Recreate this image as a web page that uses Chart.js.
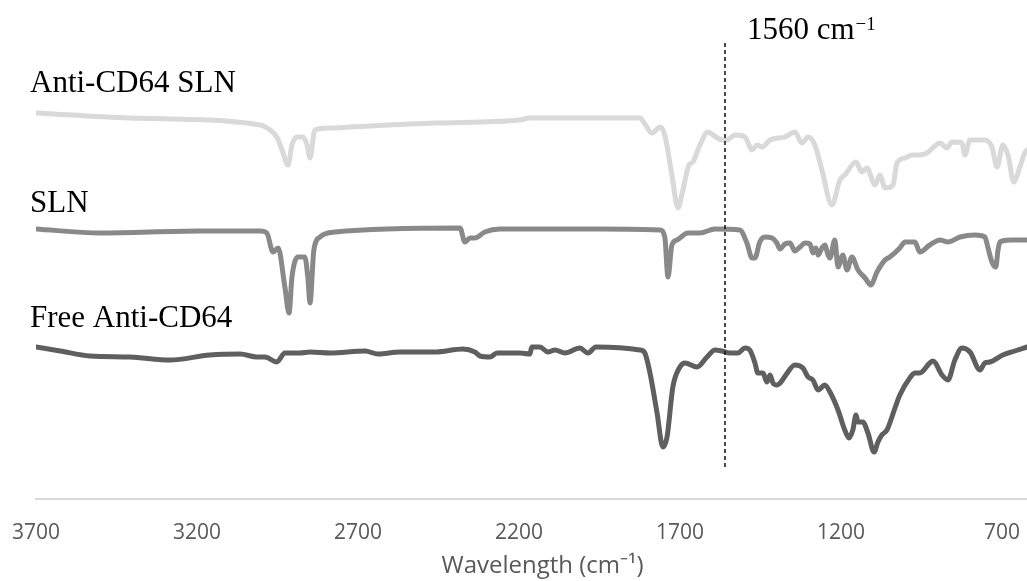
<!DOCTYPE html>
<html>
<head>
<meta charset="utf-8">
<script src="https://cdn.jsdelivr.net/npm/chart.js@4/dist/chart.umd.min.js"></script>
<style>
    body { margin: 0; background: #fff; }
    #chart { width: 1027px; height: 581px; }
</style>
</head>
<body>
<div id="chart"><canvas id="chart_canvas"></canvas></div>
<script>
// FTIR spectra, values are offset transmittance (arbitrary units)
const antiSlnWn = [3700, 3408, 3004, 2973, 2952, 2936, 2917, 2905, 2889, 2871, 2858, 2849, 2834, 2787, 2725, 2460, 2197, 2166, 1824, 1809, 1787, 1762, 1747, 1725, 1706, 1694, 1672, 1660, 1638, 1613, 1597, 1570, 1554, 1529, 1498, 1476, 1461, 1445, 1420, 1374, 1343, 1321, 1302, 1281, 1259, 1228, 1203, 1188, 1153, 1135, 1119, 1094, 1079, 1063, 1038, 1026, 1001, 979, 955, 933, 892, 871, 855, 824, 815, 799, 753, 731, 715, 697, 681, 663, 644, 629, 622];
const antiSlnT = [386, 381, 374, 369, 362, 349, 334, 354, 362, 362, 354, 341, 369, 371, 372, 376, 379, 381, 381, 375, 366, 372, 364, 324, 291, 304, 334, 337, 354, 367, 364, 359, 359, 364, 362, 349, 354, 352, 359, 362, 367, 356, 362, 354, 329, 294, 319, 324, 337, 327, 331, 314, 324, 311, 314, 336, 341, 344, 344, 346, 356, 351, 357, 356, 344, 359, 359, 352, 332, 354, 344, 317, 332, 346, 349];

const slnWn = [3700, 3501, 3191, 3004, 2983, 2964, 2948, 2927, 2914, 2905, 2886, 2865, 2855, 2849, 2837, 2818, 2771, 2383, 2368, 2352, 2337, 2306, 2259, 1948, 1762, 1747, 1737, 1725, 1709, 1675, 1638, 1591, 1514, 1492, 1476, 1467, 1452, 1436, 1414, 1399, 1389, 1374, 1358, 1343, 1327, 1312, 1296, 1287, 1278, 1271, 1259, 1250, 1240, 1234, 1219, 1209, 1194, 1181, 1166, 1147, 1125, 1107, 1088, 1063, 1048, 1017, 1001, 970, 955, 924, 892, 868, 830, 784, 753, 743, 731, 719, 712, 706, 675, 622];
const slnT = [270, 266, 268, 268, 266, 247, 251, 212, 186, 222, 242, 242, 219, 196, 249, 262, 267, 271, 257, 261, 261, 267, 270, 270, 269, 262, 222, 254, 259, 266, 266, 270, 269, 256, 241, 241, 257, 262, 261, 256, 250, 255, 256, 248, 252, 256, 255, 246, 251, 244, 251, 254, 244, 241, 259, 232, 244, 229, 242, 229, 221, 214, 227, 239, 242, 251, 257, 257, 247, 254, 259, 257, 262, 264, 262, 251, 237, 232, 249, 257, 259, 259];

const freeWn = [3700, 3625, 3532, 3408, 3284, 3160, 3066, 3014, 2989, 2952, 2927, 2880, 2849, 2787, 2678, 2638, 2570, 2461, 2374, 2337, 2321, 2290, 2268, 2197, 2166, 2160, 2135, 2110, 2088, 2057, 2011, 1986, 1961, 1824, 1809, 1793, 1771, 1753, 1740, 1722, 1700, 1684, 1647, 1616, 1591, 1570, 1545, 1520, 1498, 1483, 1467, 1458, 1442, 1430, 1420, 1411, 1399, 1386, 1371, 1343, 1318, 1302, 1287, 1271, 1250, 1234, 1209, 1188, 1175, 1163, 1153, 1147, 1132, 1116, 1097, 1085, 1073, 1057, 1032, 1017, 986, 970, 955, 924, 914, 886, 868, 846, 824, 799, 768, 753, 737, 697, 660, 622];
const freeT = [152, 148, 143, 142, 139, 144, 145, 142, 142, 137, 146, 146, 147, 146, 148, 145, 147, 147, 150, 147, 143, 142, 146, 146, 145, 152, 152, 147, 149, 146, 151, 146, 152, 149, 146, 126, 86, 52, 62, 112, 132, 136, 132, 142, 149, 148, 146, 146, 151, 149, 136, 126, 126, 117, 124, 116, 114, 117, 124, 134, 131, 122, 119, 109, 114, 107, 89, 69, 61, 69, 84, 77, 77, 66, 47, 57, 64, 69, 91, 104, 121, 126, 126, 136, 138, 124, 119, 139, 151, 147, 129, 136, 137, 144, 148, 152];

const tickValues = [3700, 3200, 2700, 2200, 1700, 1200, 700];
const markerWn = 1560;

function toPoints(wn, vals) {
    return wn.map((w, i) => ({ x: w, y: vals[i] }));
}

// text next to the curves, axis title, dashed marker line
const annotate = {
    id: 'annotate',
    afterDatasetsDraw(chart) {
        const { ctx, chartArea, scales: { x, y } } = chart;
        ctx.save();
        ctx.fillStyle = '#000';
        ctx.textBaseline = 'alphabetic';
        ctx.textAlign = 'left';
        ctx.font = '31px "Liberation Serif", "Times New Roman", serif';
        const labels = [
            { text: 'Anti-CD64 SLN', v: 407 },
            { text: 'SLN', v: 287 },
            { text: 'Free Anti-CD64', v: 172 }
        ];
        labels.forEach(l => {
            ctx.fillText(l.text, chartArea.left - 6, y.getPixelForValue(l.v));
        });

        const mx = x.getPixelForValue(markerWn);
        ctx.beginPath();
        ctx.setLineDash([4, 3]);
        ctx.lineWidth = 1.5;
        ctx.strokeStyle = '#111';
        ctx.moveTo(mx, y.getPixelForValue(456));
        ctx.lineTo(mx, y.getPixelForValue(29));
        ctx.stroke();
        ctx.setLineDash([]);

        const ty = y.getPixelForValue(460);
        const main = markerWn + ' cm';
        ctx.fillText(main, mx + 22, ty);
        const w = ctx.measureText(main).width;
        ctx.font = '19px "Liberation Serif", "Times New Roman", serif';
        ctx.fillText('\u22121', mx + 22 + w + 1, ty - 9);

        // axis title
        ctx.fillStyle = '#595959';
        ctx.textAlign = 'center';
        ctx.font = '24px "Open Sans", sans-serif';
        ctx.fillText('Wavelength (cm\u207B\u00B9)', (chartArea.left + chartArea.right) / 2 + 11, chartArea.bottom + 74);
        ctx.restore();
    }
};

Chart.defaults.font.family = '"Open Sans", sans-serif';

const conf = {
    type: 'line',
    data: {
        datasets: [{
            label: 'Anti-CD64 SLN',
            data: toPoints(antiSlnWn, antiSlnT),
            borderColor: '#d9d9d9',
        }, {
            label: 'SLN',
            data: toPoints(slnWn, slnT),
            borderColor: '#898989',
        }, {
            label: 'Free Anti-CD64',
            data: toPoints(freeWn, freeT),
            borderColor: '#5f5f5f',
        }]
    },
    options: {
        responsive: true,
        maintainAspectRatio: false,
        animation: false,
        layout: { padding: { left: 36, right: 0, top: 0, bottom: 0 } },
        elements: {
            point: { radius: 0 },
            line: {
                borderWidth: 5,
                fill: false,
                cubicInterpolationMode: 'monotone',
                borderCapStyle: 'round',
                borderJoinStyle: 'round'
            }
        },
        scales: {
            x: {
                type: 'linear',
                reverse: true,
                min: 622,
                max: 3700,
                grid: { drawOnChartArea: false, drawTicks: false },
                border: { color: '#d9d9d9', width: 2 },
                afterBuildTicks: (scale) => {
                    scale.ticks = tickValues.map(v => ({ value: v }));
                },
                afterFit: (scale) => {
                    scale.height = 82;
                    scale.paddingLeft = 0;
                    scale.paddingRight = 0;
                },
                ticks: {
                    autoSkip: false,
                    maxRotation: 0,
                    padding: 21,
                    color: '#595959',
                    font: { size: 21 },
                    callback: (v) => String(v)
                },
                title: { display: false }
            },
            y: {
                display: false,
                min: 0,
                max: 499
            }
        },
        plugins: {
            legend: { display: false },
            tooltip: { enabled: false }
        }
    },
    plugins: [annotate]
};

const myChart = new Chart(document.getElementById('chart_canvas'), conf);
</script>
</body>
</html>
